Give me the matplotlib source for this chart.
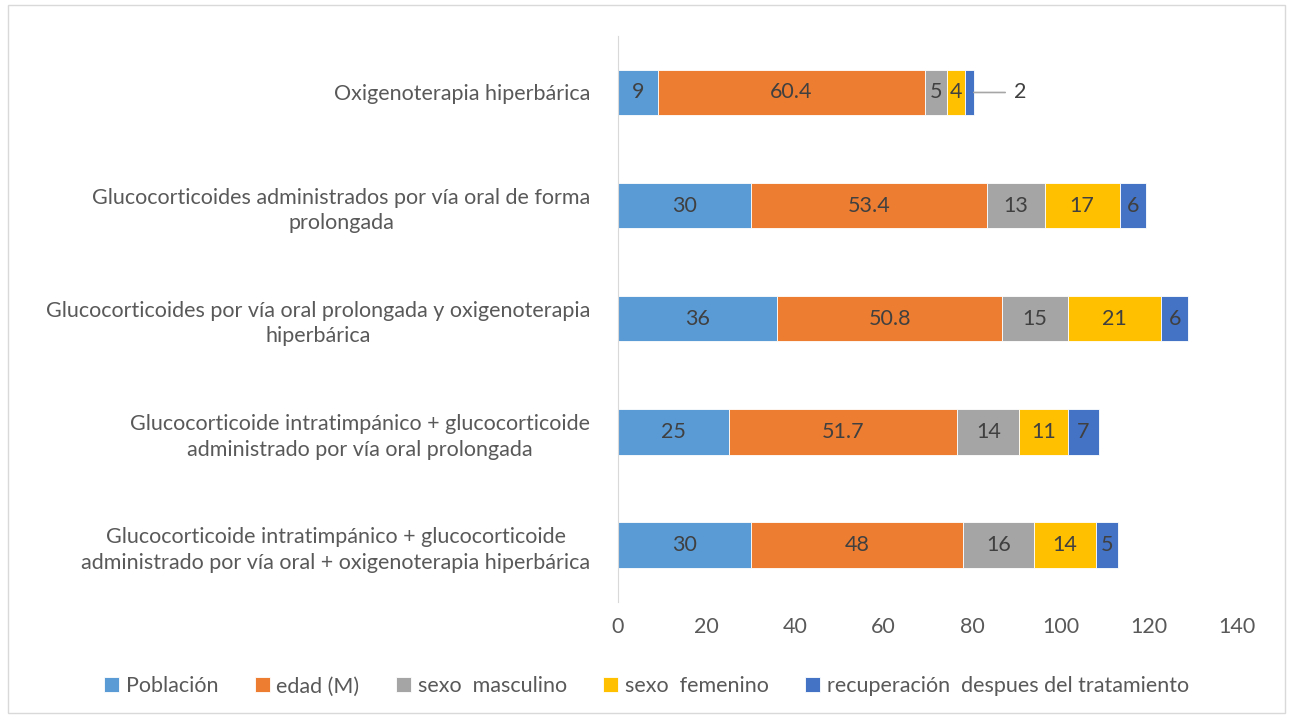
import matplotlib
matplotlib.use('Agg')
import matplotlib.pyplot as plt
from matplotlib.patches import Rectangle

plt.rcParams['font.family'] = ['Lato', 'DejaVu Sans']

# Datos
tratamientos = [
    'Oxigenoterapia hiperbárica',
    'Glucocorticoides administrados por vía oral de forma\nprolongada',
    'Glucocorticoides por vía oral prolongada y oxigenoterapia\nhiperbárica',
    'Glucocorticoide intratimpánico + glucocorticoide\nadministrado por vía oral prolongada',
    'Glucocorticoide intratimpánico + glucocorticoide\nadministrado por vía oral + oxigenoterapia hiperbárica',
]
poblacion = [9, 30, 36, 25, 30]
edad = [60.4, 53.4, 50.8, 51.7, 48]
masculino = [5, 13, 15, 14, 16]
femenino = [4, 17, 21, 11, 14]
recuperacion = [2, 6, 6, 7, 5]

series = ['Población', 'edad (M)', 'sexo  masculino', 'sexo  femenino',
          'recuperación  despues del tratamiento']
colores = ['#5B9BD5', '#ED7D31', '#A5A5A5', '#FFC000', '#4472C4']
valores = [poblacion, edad, masculino, femenino, recuperacion]

fig = plt.figure(figsize=(12.93, 7.18), dpi=100)
ax = fig.add_axes([0.478, 0.162, 0.479, 0.788])

# borde exterior
fig.patches.append(Rectangle((0.006, 0.007), 0.988, 0.986, transform=fig.transFigure,
                             fill=False, edgecolor='#D9D9D9', linewidth=1))

ypos = list(range(len(tratamientos)))[::-1]
izq = [0] * len(tratamientos)
for nombre, vals, col in zip(series, valores, colores):
    barras = ax.barh(ypos, vals, left=izq, height=0.4, color=col, label=nombre,
                     edgecolor='white', linewidth=0.6)
    for b, v, y in zip(barras, vals, ypos):
        txt = f'{v:g}'
        if v <= 2:
            x_end = b.get_x() + b.get_width()
            ax.annotate(txt, xy=(x_end, y), xytext=(x_end + 9, y), va='center',
                        ha='left', fontsize=15.5, color='#404040',
                        arrowprops=dict(arrowstyle='-', color='#A6A6A6', lw=1.2,
                                        shrinkA=4, shrinkB=0))
        else:
            ax.text(b.get_x() + b.get_width() / 2, y, txt, ha='center', va='center',
                    fontsize=15.5, color='#404040')
    izq = [a + v for a, v in zip(izq, vals)]

ax.set_xlim(0, 140)
ax.set_ylim(-0.5, 4.5)
ax.set_xticks(range(0, 141, 20))
ax.set_yticks(ypos)
ax.set_yticklabels(tratamientos, multialignment='center', linespacing=1.35)
ax.tick_params(axis='both', length=0, labelsize=15.5, labelcolor='#595959')
ax.tick_params(axis='y', pad=20)
ax.tick_params(axis='x', pad=11)
for s in ['top', 'right', 'bottom']:
    ax.spines[s].set_visible(False)
ax.spines['left'].set_color('#D9D9D9')

fig.legend(loc='center', bbox_to_anchor=(0.5, 0.044), ncol=5, frameon=False,
           fontsize=15.5, labelcolor='#595959', handlelength=0.7, handleheight=0.7,
           handletextpad=0.3, columnspacing=1.7)

plt.savefig('out.png', dpi=100)
plt.close()
